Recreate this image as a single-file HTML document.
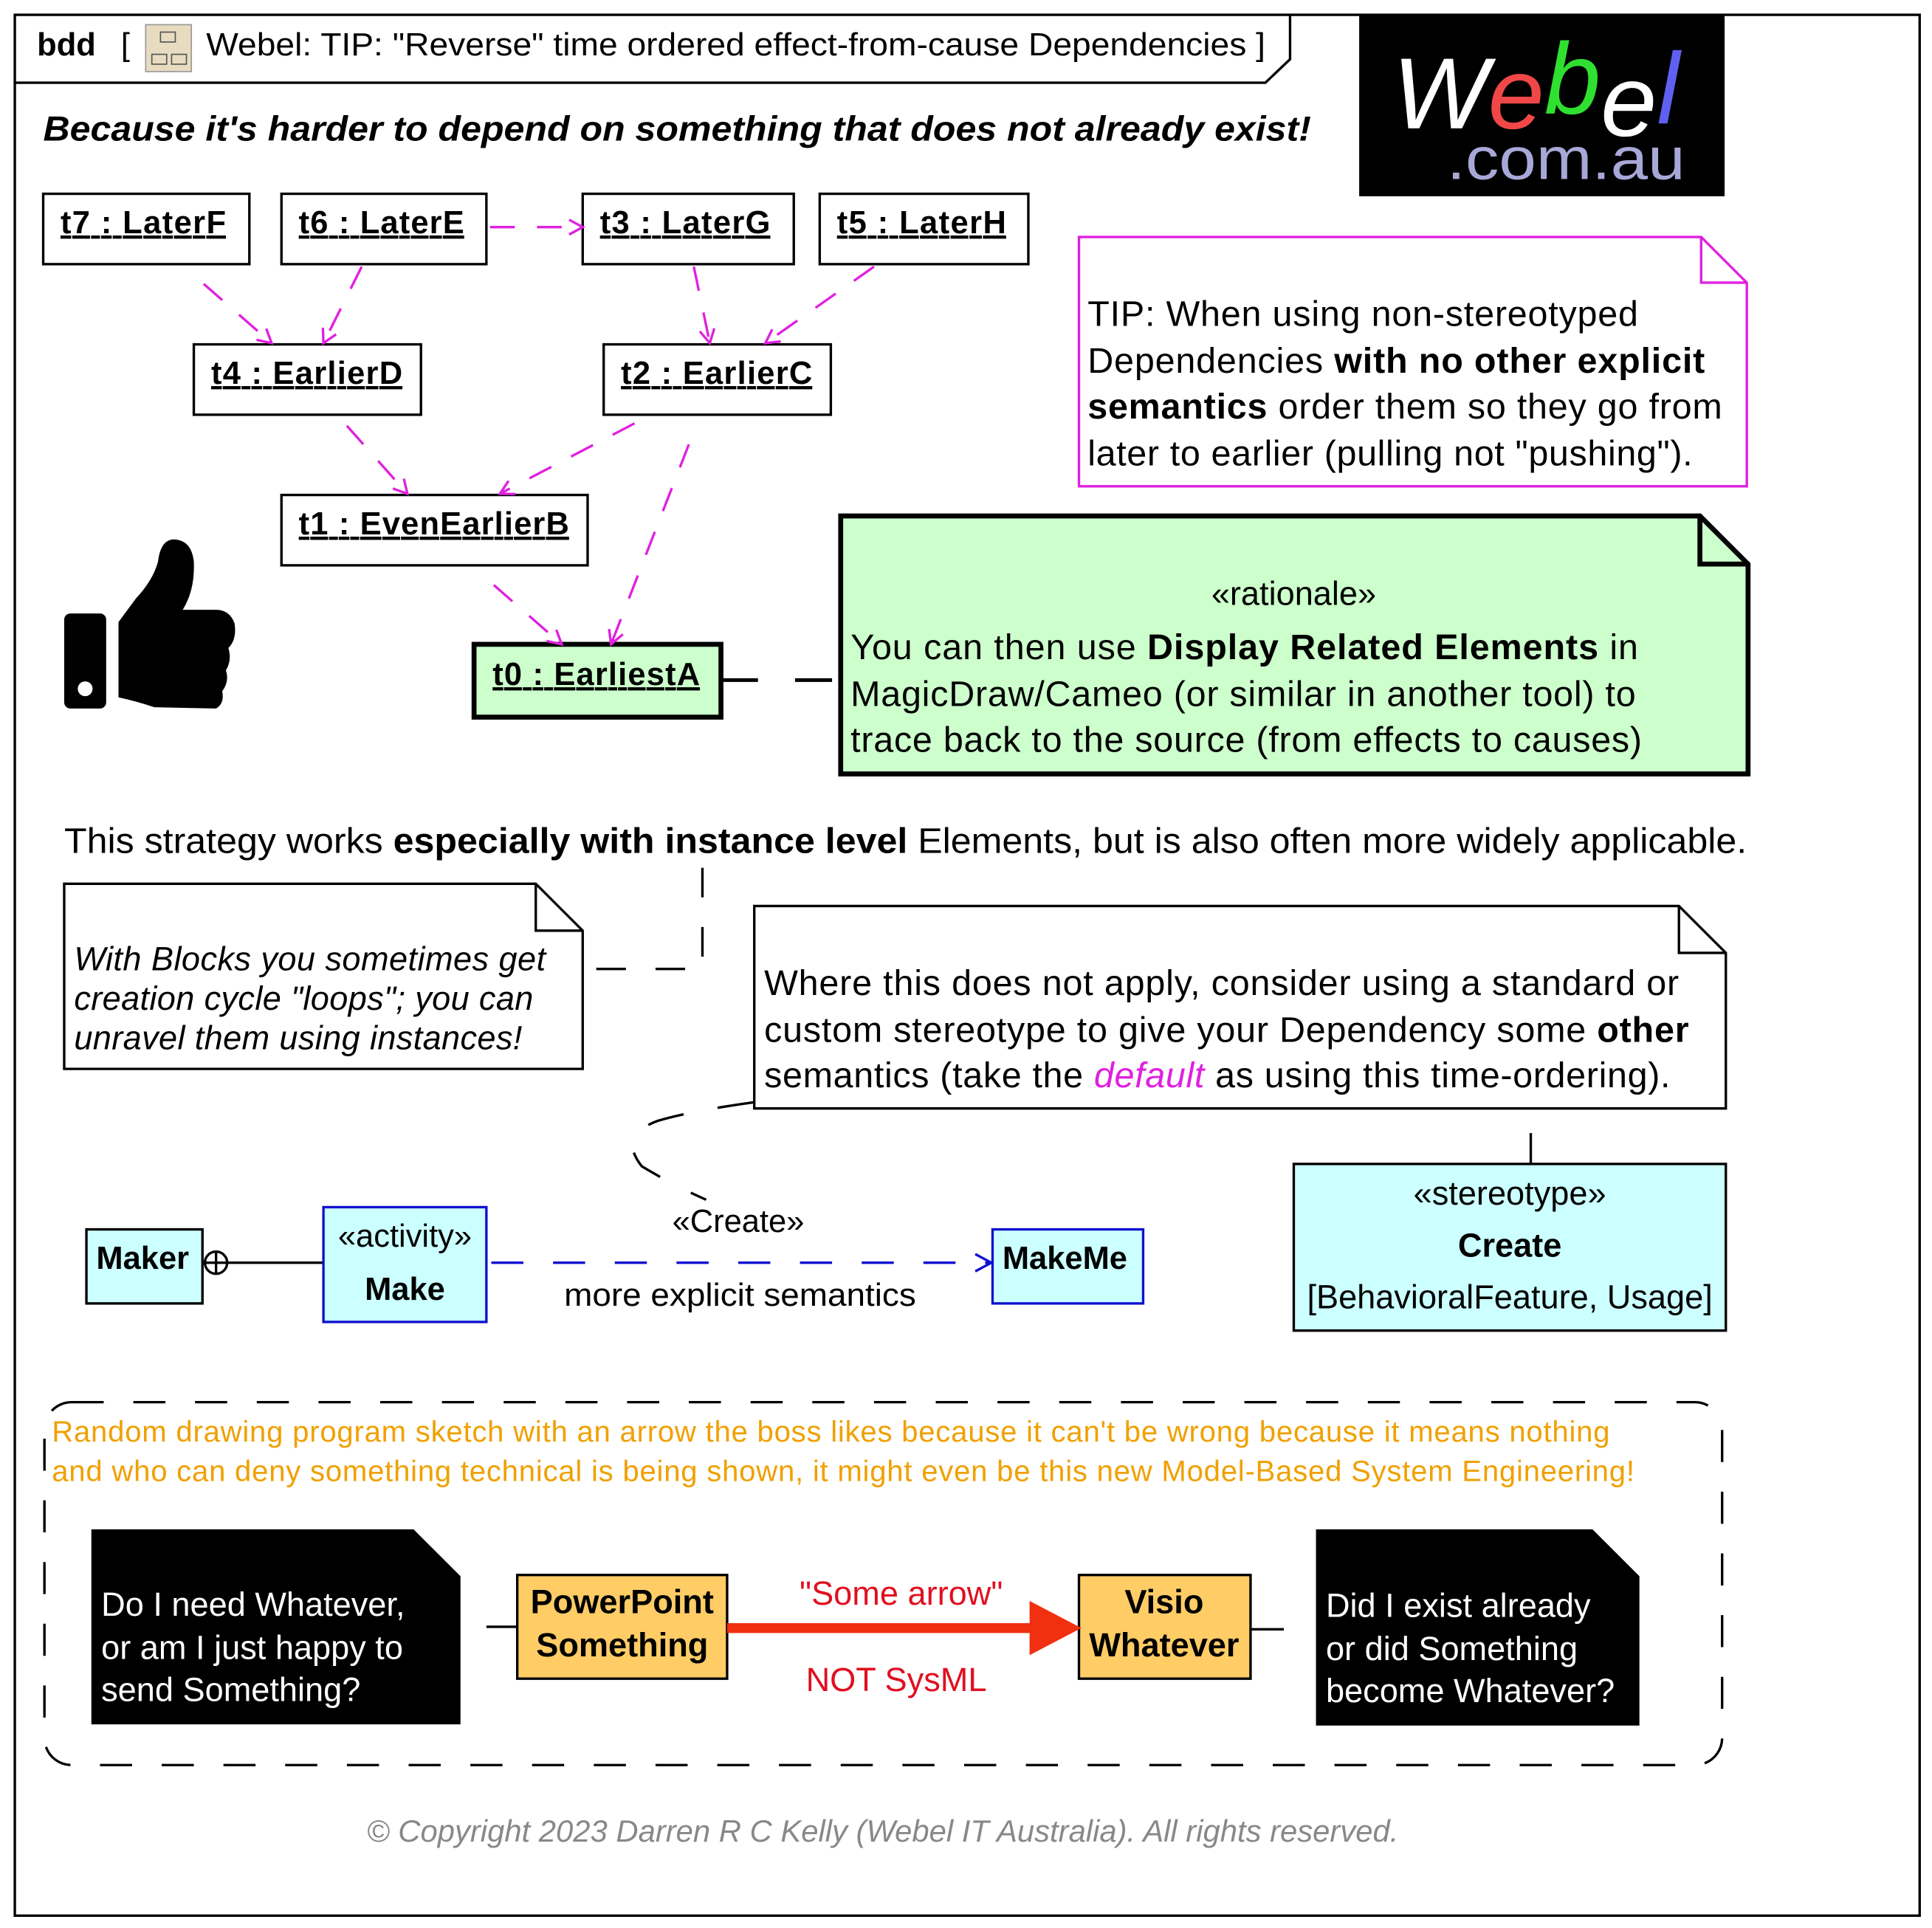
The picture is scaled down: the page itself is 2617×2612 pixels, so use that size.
<!DOCTYPE html>
<html><head><meta charset="utf-8"><style>html,body{margin:0;padding:0;background:#fff}svg{display:block}</style></head>
<body>
<svg xmlns="http://www.w3.org/2000/svg" width="2617" height="2612" viewBox="0 0 1565 1562" font-family="Liberation Sans, sans-serif">
<defs>
<marker id="mg" markerWidth="14" markerHeight="14" refX="12" refY="7" orient="auto" markerUnits="userSpaceOnUse"><path d="M1,1 L12,7 L1,13" fill="none" stroke="#e020e0" stroke-width="2"/></marker>
<marker id="bl" markerWidth="16" markerHeight="16" refX="14" refY="8" orient="auto" markerUnits="userSpaceOnUse"><path d="M1,1 L14,8 L1,15" fill="none" stroke="#1010d0" stroke-width="2"/></marker>
</defs>
<rect x="0" y="0" width="1565" height="1562" fill="#fff"/>
<rect x="12" y="12" width="1543" height="1540" fill="none" stroke="#000" stroke-width="2"/>
<path d="M12,67 L1025,67 L1045,48 L1045,12" fill="none" stroke="#000" stroke-width="2"/>
<text x="30" y="45" font-size="26" font-weight="bold">bdd</text>
<text x="98" y="45" font-size="26">[</text>
<rect x="118" y="20" width="37" height="38" fill="#e8dcc0" stroke="#999"/>
<rect x="130" y="26" width="12" height="8" fill="none" stroke="#555"/><rect x="123" y="44" width="12" height="8" fill="none" stroke="#555"/><rect x="139" y="44" width="12" height="8" fill="none" stroke="#555"/>
<text x="167" y="45" font-size="26" textLength="858" lengthAdjust="spacingAndGlyphs">Webel: TIP: "Reverse" time ordered effect-from-cause Dependencies ]</text>
<rect x="1101" y="12" width="296" height="147" fill="#000"/>
<text x="1128" y="104" font-size="82" font-style="italic" fill="#fff">W<tspan fill="#f04848">e</tspan><tspan fill="#30e030" dy="-12">b</tspan><tspan fill="#fff" dy="18">e</tspan><tspan fill="#6060f0" dy="-10">l</tspan></text>
<text x="1172" y="145" font-size="48" fill="#a8a8d8" textLength="193" lengthAdjust="spacingAndGlyphs">.com.au</text>
<text x="35" y="114" font-size="28" font-weight="bold" font-style="italic" textLength="1027" lengthAdjust="spacingAndGlyphs">Because it's harder to depend on something that does not already exist!</text>

<g stroke="#000" stroke-width="2" fill="#fff">
<rect x="35" y="157" width="167" height="57"/><rect x="228" y="157" width="166" height="57"/>
<rect x="472" y="157" width="171" height="57"/><rect x="664" y="157" width="169" height="57"/>
<rect x="157" y="279" width="184" height="57"/><rect x="489" y="279" width="184" height="57"/>
<rect x="228" y="401" width="248" height="57"/>
</g>
<rect x="384" y="522" width="200" height="59" fill="#ccffcc" stroke="#000" stroke-width="4"/>
<g font-size="26" font-weight="bold" text-decoration="underline" lengthAdjust="spacingAndGlyphs">
<text x="49" y="189" textLength="134">t7 : LaterF</text><text x="242" y="189" textLength="134">t6 : LaterE</text>
<text x="486" y="189" textLength="138">t3 : LaterG</text><text x="678" y="189" textLength="137">t5 : LaterH</text>
<text x="171" y="311" textLength="155">t4 : EarlierD</text><text x="503" y="311" textLength="155">t2 : EarlierC</text>
<text x="242" y="433" textLength="219">t1 : EvenEarlierB</text><text x="399" y="555" textLength="168">t0 : EarliestA</text>
</g>
<g stroke="#e020e0" stroke-width="2" stroke-dasharray="20,18" fill="none" marker-end="url(#mg)">
<path d="M165,230 L220,278"/><path d="M293,216 L262,278"/><path d="M397,184 L472,184"/>
<path d="M562,216 L575,278"/><path d="M708,216 L620,278"/><path d="M281,345 L330,400"/>
<path d="M514,343 L405,400"/><path d="M558,360 L495,522"/><path d="M400,474 L455,522"/>
</g>

<path d="M874,192 L1378,192 L1415,229 L1415,394 L874,394 Z M1378,192 L1378,229 L1415,229" fill="#fff" stroke="#e020e0" stroke-width="2"/>
<g font-size="29" lengthAdjust="spacingAndGlyphs"><text x="881" y="264" textLength="446">TIP: When using non-stereotyped</text>
<text x="881" y="302" textLength="500">Dependencies <tspan font-weight="bold">with no other explicit</tspan></text>
<text x="881" y="339" textLength="514"><tspan font-weight="bold">semantics</tspan> order them so they go from</text>
<text x="881" y="377" textLength="490">later to earlier (pulling not "pushing").</text></g>

<path d="M681,418 L1377,418 L1416,457 L1416,627 L681,627 Z" fill="#ccffcc" stroke="#000" stroke-width="4"/>
<path d="M1377,418 L1377,457 L1416,457" fill="none" stroke="#000" stroke-width="4"/>
<g font-size="29" lengthAdjust="spacingAndGlyphs"><text x="1048" y="490" text-anchor="middle" font-size="27">«rationale»</text>
<text x="689" y="534" textLength="638">You can then use <tspan font-weight="bold">Display Related Elements</tspan> in</text>
<text x="689" y="572" textLength="636">MagicDraw/Cameo (or similar in another tool) to</text>
<text x="689" y="609" textLength="641">trace back to the source (from effects to causes)</text></g>
<path d="M584,551 L681,551" stroke="#000" stroke-width="3" stroke-dasharray="30,30"/>

<rect x="52" y="497" width="34" height="77" rx="5" fill="#000"/><circle cx="69" cy="558" r="6" fill="#fff"/>
<path d="M96,504 L96,565 Q110,568 125,573 L175,574 Q182,570 180,560 Q186,552 183,543 Q188,535 185,525 Q192,518 190,505 Q186,494 175,494 L148,494 Q158,478 157,455 Q155,437 140,437 Q130,438 128,455 Q124,470 110,485 Z" fill="#000"/>

<text x="52" y="691" font-size="29" textLength="1363" lengthAdjust="spacingAndGlyphs">This strategy works <tspan font-weight="bold">especially with instance level</tspan> Elements, but is also often more widely applicable.</text>
<path d="M569,703 L569,785 L472,785" fill="none" stroke="#000" stroke-width="2" stroke-dasharray="24,24"/>

<path d="M52,716 L434,716 L472,754 L472,866 L52,866 Z M434,716 L434,754 L472,754" fill="#fff" stroke="#000" stroke-width="2"/>
<g font-size="27" font-style="italic" lengthAdjust="spacingAndGlyphs"><text x="60" y="786" textLength="382">With Blocks you sometimes get</text>
<text x="60" y="818" textLength="372">creation cycle "loops"; you can</text><text x="60" y="850" textLength="363">unravel them using instances!</text></g>

<path d="M611,734 L1360,734 L1398,772 L1398,898 L611,898 Z M1360,734 L1360,772 L1398,772" fill="#fff" stroke="#000" stroke-width="2"/>
<g font-size="29" lengthAdjust="spacingAndGlyphs"><text x="619" y="806" textLength="741">Where this does not apply, consider using a standard or</text>
<text x="619" y="844" textLength="749">custom stereotype to give your Dependency some <tspan font-weight="bold">other</tspan></text>
<text x="619" y="881" textLength="734">semantics (take the <tspan fill="#e020e0" font-style="italic">default</tspan> as using this time-ordering).</text></g>
<path d="M611,893 Q560,900 533,908 Q500,920 520,945 Q545,960 572,972" fill="none" stroke="#000" stroke-width="2" stroke-dasharray="30,28"/>
<path d="M1240,918 L1240,943" stroke="#000" stroke-width="2"/>

<rect x="1048" y="943" width="350" height="135" fill="#ccffff" stroke="#000" stroke-width="2"/>
<g font-size="27" text-anchor="middle"><text x="1223" y="976">«stereotype»</text>
<text x="1223" y="1018" font-weight="bold">Create</text><text x="1223" y="1060">[BehavioralFeature, Usage]</text></g>

<rect x="70" y="996" width="94" height="60" fill="#ccffff" stroke="#000" stroke-width="2"/>
<text x="78" y="1028" font-size="26" font-weight="bold">Maker</text>
<circle cx="175" cy="1023" r="9" fill="#fff" stroke="#000" stroke-width="2"/>
<path d="M166,1023 L184,1023 M175,1014 L175,1032 M184,1023 L262,1023" stroke="#000" stroke-width="2"/>
<rect x="262" y="978" width="132" height="93" fill="#ccffff" stroke="#1010d0" stroke-width="2"/>
<text x="328" y="1010" font-size="26" text-anchor="middle">«activity»</text>
<text x="328" y="1053" font-size="26" font-weight="bold" text-anchor="middle">Make</text>
<path d="M398,1023 L803,1023" stroke="#1010d0" stroke-width="2" stroke-dasharray="26,24" marker-end="url(#bl)"/>
<text x="598" y="998" font-size="26" text-anchor="middle">«Create»</text>
<text x="457" y="1058" font-size="26" textLength="285" lengthAdjust="spacingAndGlyphs">more explicit semantics</text>
<rect x="804" y="996" width="122" height="60" fill="#ccffff" stroke="#1010d0" stroke-width="2"/>
<text x="812" y="1028" font-size="26" font-weight="bold">MakeMe</text>

<rect x="36" y="1136" width="1359" height="294" rx="22" fill="none" stroke="#000" stroke-width="2" stroke-dasharray="26,24"/>
<g font-size="24" fill="#f0a000" lengthAdjust="spacingAndGlyphs"><text x="42" y="1168" textLength="1262">Random drawing program sketch with an arrow the boss likes because it can't be wrong because it means nothing</text>
<text x="42" y="1200" textLength="1282">and who can deny something technical is being shown, it might even be this new Model-Based System Engineering!</text></g>

<path d="M74,1239 L335,1239 L373,1277 L373,1397 L74,1397 Z" fill="#000"/>
<g font-size="27" fill="#fff"><text x="82" y="1309">Do I need Whatever,</text><text x="82" y="1344">or am I just happy to</text><text x="82" y="1378">send Something?</text></g>
<path d="M1066,1239 L1290,1239 L1328,1277 L1328,1398 L1066,1398 Z" fill="#000"/>
<g font-size="27" fill="#fff"><text x="1074" y="1310">Did I exist already</text><text x="1074" y="1345">or did Something</text><text x="1074" y="1379">become Whatever?</text></g>
<path d="M394,1318 L419,1318 M1013,1320 L1040,1320" stroke="#000" stroke-width="2"/>

<rect x="419" y="1276" width="170" height="84" fill="#ffcc66" stroke="#000" stroke-width="2"/>
<g font-size="27" font-weight="bold" text-anchor="middle"><text x="504" y="1307">PowerPoint</text><text x="504" y="1342">Something</text></g>
<rect x="874" y="1276" width="139" height="84" fill="#ffcc66" stroke="#000" stroke-width="2"/>
<g font-size="27" font-weight="bold" text-anchor="middle"><text x="943" y="1307">Visio</text><text x="943" y="1342">Whatever</text></g>
<path d="M589,1319 L840,1319" stroke="#f03010" stroke-width="8"/>
<path d="M834,1297 L876,1319 L834,1341 Z" fill="#f03010"/>
<text x="730" y="1300" font-size="27" fill="#e01020" text-anchor="middle">"Some arrow"</text>
<text x="726" y="1370" font-size="27" fill="#e01020" text-anchor="middle">NOT SysML</text>

<text x="715" y="1492" font-size="25" font-style="italic" fill="#888" text-anchor="middle">© Copyright 2023 Darren R C Kelly (Webel IT Australia). All rights reserved.</text>
</svg>
</body></html>
